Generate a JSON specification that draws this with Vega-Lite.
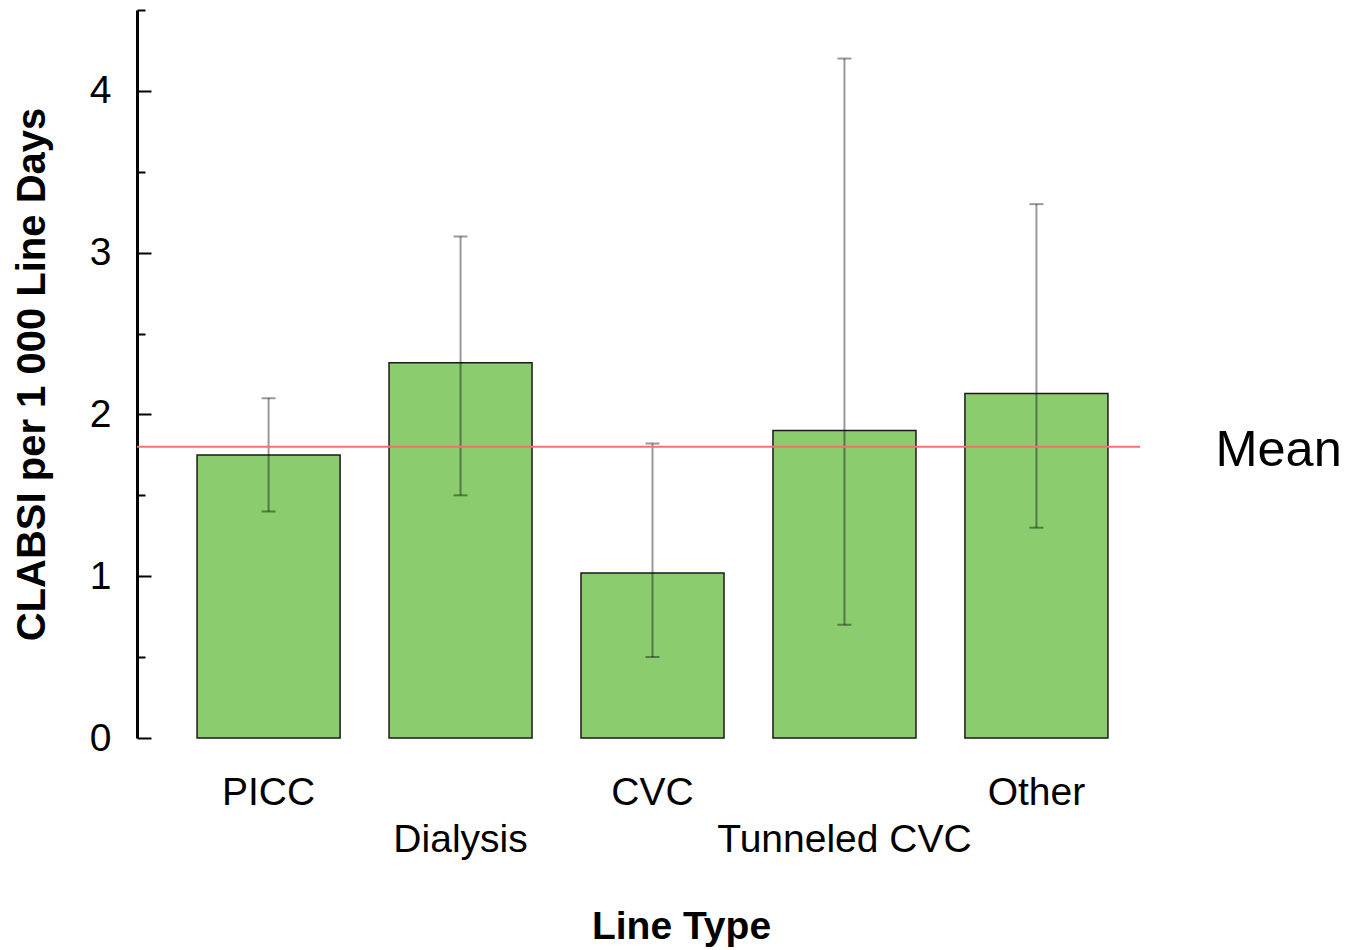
{
  "$schema": "https://vega.github.io/schema/vega-lite/v6.json",
  "width": 1003,
  "height": 728,
  "autosize": {"type": "none"},
  "padding": {"left": 137, "top": 10, "right": 210, "bottom": 212},
  "background": "white",
  "config": {
    "view": {"stroke": null},
    "font": "Liberation Sans"
  },
  "datasets": {
    "rates": [
      {"type": "PICC", "rate": 1.75, "lo": 1.4, "hi": 2.1},
      {"type": "Dialysis", "rate": 2.32, "lo": 1.5, "hi": 3.1},
      {"type": "CVC", "rate": 1.02, "lo": 0.5, "hi": 1.82},
      {"type": "Tunneled CVC", "rate": 1.9, "lo": 0.7, "hi": 4.2},
      {"type": "Other", "rate": 2.13, "lo": 1.3, "hi": 3.3}
    ],
    "mean": [
      {"type": "Other", "mean": 1.8, "label": "Mean"}
    ]
  },
  "encoding": {
    "x": {
      "field": "type",
      "type": "nominal",
      "sort": ["PICC", "Dialysis", "CVC", "Tunneled CVC", "Other"],
      "scale": {"paddingInner": 0.255, "paddingOuter": 0.24, "align": 0.652},
      "axis": {
        "title": "Line Type",
        "titleFont": "Liberation Sans",
        "titleFontSize": 39,
        "titleFontWeight": "bold",
        "titleColor": "black",
        "titlePadding": 48,
        "titleX": 544,
        "domain": false,
        "ticks": false,
        "labelAngle": 0,
        "labelLimit": 0,
        "labelFont": "Liberation Sans",
        "labelFontSize": 39,
        "labelColor": "black",
        "labelLineHeight": 47,
        "labelPadding": 35,
        "labelExpr": "datum.value === 'Dialysis' || datum.value === 'Tunneled CVC' ? ['', datum.label] : datum.label"
      }
    }
  },
  "layer": [
    {
      "data": {"name": "rates"},
      "mark": {"type": "bar", "color": "#8BCC6E", "stroke": "#1a1a1a", "strokeWidth": 1.5},
      "encoding": {
        "y": {
          "field": "rate",
          "type": "quantitative",
          "title": "CLABSI per 1 000 Line Days",
          "scale": {"domain": [0, 4.5], "nice": false},
          "axis": {
            "title": "CLABSI per 1 000 Line Days",
            "titleFont": "Liberation Sans",
            "titleFontSize": 40,
            "titleFontWeight": "bold",
            "titleColor": "black",
            "titlePadding": 37,
            "values": [0, 0.5, 1, 1.5, 2, 2.5, 3, 3.5, 4, 4.5],
            "labelExpr": "datum.value % 1 === 0 ? format(datum.value, 'd') : ''",
            "labelFont": "Liberation Sans",
            "labelFontSize": 39,
            "labelColor": "black",
            "labelPadding": 40,
            "grid": false,
            "domainColor": "black",
            "domainWidth": 3,
            "tickColor": "black",
            "tickWidth": 2,
            "tickSize": {"condition": {"test": "datum.value % 1 === 0", "value": -14}, "value": -8}
          }
        }
      }
    },
    {
      "data": {"name": "rates"},
      "mark": {
        "type": "errorbar",
        "ticks": {"size": 14, "color": "black", "opacity": 0.4, "thickness": 2},
        "rule": {"color": "black", "opacity": 0.4, "strokeWidth": 2}
      },
      "encoding": {
        "y": {"field": "lo", "type": "quantitative", "title": "CLABSI per 1 000 Line Days"},
        "y2": {"field": "hi"}
      }
    },
    {
      "data": {"name": "mean"},
      "mark": {"type": "rule", "color": "#F27272", "strokeWidth": 2},
      "encoding": {
        "x": null,
        "y": {"field": "mean", "type": "quantitative", "title": "CLABSI per 1 000 Line Days"}
      }
    },
    {
      "data": {"name": "mean"},
      "mark": {"type": "text", "align": "left", "baseline": "middle", "dx": 179, "dy": 4, "fontSize": 50.5, "font": "Liberation Sans", "color": "black"},
      "encoding": {
        "y": {"field": "mean", "type": "quantitative", "title": "CLABSI per 1 000 Line Days"},
        "text": {"field": "label"}
      }
    }
  ]
}
